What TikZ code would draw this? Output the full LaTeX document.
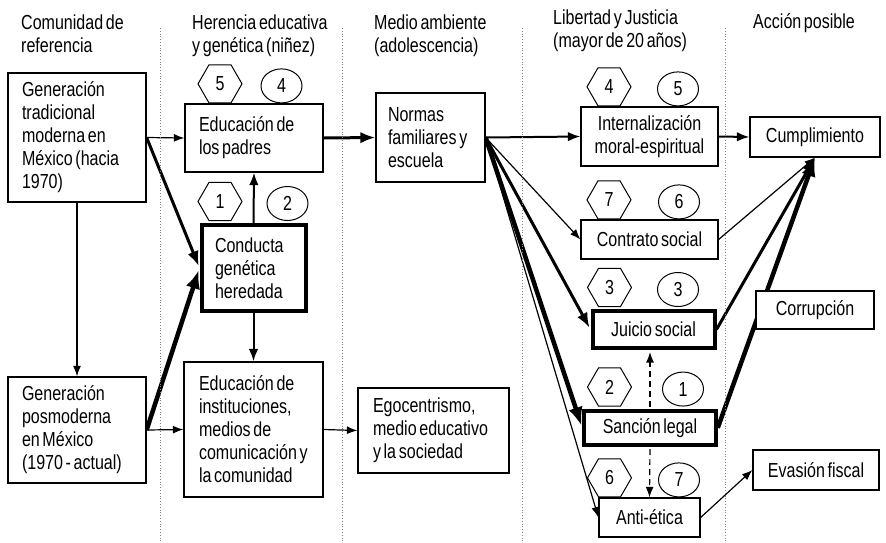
\documentclass[tikz,border=0pt]{standalone}
\usepackage{fontspec}
\setmainfont{Liberation Sans}[FakeStretch=0.79, WordSpace=0.6]
\usetikzlibrary{arrows.meta,shapes.geometric,positioning,backgrounds}
\tikzstyle{flowArrow} = [-{Latex[length=7.5pt 2.5, width=5.5pt 2]}]
\tikzstyle{thinArrow} = [flowArrow, line width=1.2pt]
\tikzstyle{midArrow} = [flowArrow, line width=2pt]
\tikzstyle{thickArrow} = [flowArrow, line width=3pt]
\tikzstyle{heavyArrow} = [flowArrow, line width=4.5pt]
\tikzstyle{legalLink} = [thinArrow, dash pattern=on 6pt off 4pt]
\tikzstyle{stdBox} = [shape=rectangle, draw, fill=white, line width=1.2pt, inner ysep=0pt, align=flush left]
\tikzstyle{keyBox} = [stdBox, line width=4pt]
\tikzstyle{rightBox} = [stdBox, inner xsep=0pt, align=center]
\tikzstyle{hexMark} = [regular polygon, regular polygon sides=6, minimum size=44pt, inner sep=0pt, draw, fill=white, line width=1pt]
\tikzstyle{circMark} = [ellipse, minimum width=41pt, minimum height=34pt, inner sep=0pt, draw, fill=white, line width=1pt]
\tikzstyle{heading} = [anchor=north west, inner sep=0pt, align=left]
\tikzstyle{separator} = [gray, dotted, line width=0.8pt]

\begin{document}
\begin{tikzpicture}[x=1pt, y=-1pt, font=\fontsize{20.3}{23}\selectfont]
\useasboundingbox (0,0) rectangle (886,542);
% column separators
\foreach \x in {160,342,522,725}
	\draw[separator] (\x,28) -- (\x,542);
% headings
\node (hComunidad) [heading] at (21,15) {Comunidad de\\referencia};
\node (hHerencia) [heading] at (192,15) {Herencia educativa\\y genética (niñez)};
\node (hMedio) [heading] at (374,15) {Medio ambiente\\(adolescencia)};
\node (hLibertad) [heading] at (553,10) {Libertad y Justicia\\(mayor de 20 años)};
\node (hAccion) [heading] at (753,13) {Acción posible};
% community
\node (trad) [stdBox, inner xsep=14pt, text width=110pt, minimum height=129pt] at (77,137.5) {
	Generación\\tradicional\\moderna en\\México (hacia\\1970)
};
\node (posm) [stdBox, inner xsep=14pt, text width=110pt, minimum height=106pt] at (77,430) {
	Generación\\posmoderna\\en México\\(1970 - actual)
};
% inheritance
\node (padres) [stdBox, inner xsep=14pt, text width=110pt, minimum height=68pt] at (254,138) {
	Educación de\\los padres
};
\node (conducta) [keyBox, inner xsep=13.5pt, text width=77pt, minimum height=86pt] at (253.5,268) {
	Conducta\\genética\\heredada
};
\node (instit) [stdBox, inner xsep=15pt, text width=109pt, minimum height=135pt] at (253.5,429.5) {
	Educación~de\\instituciones,\\medios de\\comunicación~y\\la comunidad
};
% environment
\node (normas) [stdBox, inner xsep=12pt, text width=85pt, minimum height=89pt] at (430.5,137.5) {
	Normas\\familiares~y\\escuela
};
\node (ego) [stdBox, inner xsep=15pt, text width=121pt, minimum height=85pt] at (433.5,430.5) {
	Egocentrismo,\\medio~educativo\\y la sociedad
};
% freedom and justice
\node (intern) [rightBox, minimum width=137pt, minimum height=59pt] at (649.5,136.5) {
	Internalización\\moral-espiritual
};
\node (contrato) [rightBox, minimum width=137pt, minimum height=39pt] at (649.5,239.5) {Contrato social};
\node (juicio) [rightBox, line width=4pt, minimum width=122pt, minimum height=37pt] at (653.5,329.5) {Juicio social};
\node (sancion) [rightBox, line width=4pt, minimum width=131.5pt, minimum height=34.5pt] at (650,427.8) {Sanción legal};
\node (anti) [rightBox, minimum width=101pt, minimum height=39pt] at (649.5,517.5) {Anti-ética};
% possible action
\node (cumpl) [rightBox, minimum width=130pt, minimum height=40pt] at (815,137) {Cumplimiento};
\node (corrup) [rightBox, minimum width=118pt, minimum height=38pt] at (815,310) {Corrupción};
\node (evasion) [rightBox, minimum width=126pt, minimum height=40pt] at (816,470) {Evasión fiscal};
% rank markers
\node (hexPadres) [hexMark, above=0pt of padres.north, xshift=-34pt] {5};
\node (circPadres) [circMark, above=0pt of padres.north, xshift=27.5pt] {4};
\node (hexConducta) [hexMark, above=2pt of conducta.north, xshift=-33.5pt] {1};
\node (circConducta) [circMark, above=2pt of conducta.north, xshift=34pt] {2};
\node (hexIntern) [hexMark, above=0pt of intern.north, xshift=-40.5pt] {4};
\node (circIntern) [circMark, above=0pt of intern.north, xshift=28.5pt] {5};
\node (hexContrato) [hexMark, above=0pt of contrato.north, xshift=-40.5pt] {7};
\node (circContrato) [circMark, above=0pt of contrato.north, xshift=29.5pt] {6};
\node (hexJuicio) [hexMark, above=2pt of juicio.north, xshift=-44pt] {3};
\node (circJuicio) [circMark, above=2pt of juicio.north, xshift=24.5pt] {3};
\node (hexSancion) [hexMark, above=2pt of sancion.north, xshift=-40.5pt] {2};
\node (circSancion) [circMark, above=2pt of sancion.north, xshift=33pt] {1};
\node (hexAnti) [hexMark, above=0pt of anti.north, xshift=-40pt] {6};
\node (circAnti) [circMark, above=0pt of anti.north, xshift=29.5pt] {7};
% connectors
\begin{scope}[on background layer]
	\draw[thinArrow] (trad.east) -- (padres.west);
	\draw[thickArrow, shorten >=2pt] (trad.east) -- (conducta.west);
	\draw[thinArrow] (trad.south) -- (posm.north);
	\draw[thinArrow] (posm.east) -- (instit.west);
	\draw[heavyArrow, shorten >=2pt] (posm.east) -- (conducta.west);
	\draw[midArrow] (conducta.north) -- (padres.south);
	\draw[midArrow] (conducta.south) -- (instit.north);
	\draw[thickArrow] (padres.east) -- (normas.west);
	\draw[thinArrow] (instit.east) -- (ego.west);
	\draw[midArrow] (normas.east) -- (intern.west);
	\draw[thinArrow] (normas.east) -- (contrato.west);
	\draw[thickArrow, shorten >=2pt] (normas.east) -- (juicio.west);
	\draw[heavyArrow, shorten >=2pt] (normas.east) -- (sancion.west);
	\draw[thinArrow] (normas.east) -- (anti.west);
	\draw[midArrow] (intern.east) -- (cumpl.west);
	\draw[thinArrow] (contrato.east) -- (cumpl.south);
	\draw[thickArrow] (juicio.east) -- (cumpl.south);
	\draw[heavyArrow] (sancion.east) -- (cumpl.south);
	\draw[thinArrow] (anti.east) -- (evasion.west);
	\draw[legalLink, shorten <=2pt, shorten >=2pt] (sancion.north) -- (sancion.north |- juicio.south);
	\draw[legalLink, shorten <=2pt] (sancion.south) -- (anti.north);
\end{scope}
\end{tikzpicture}
\end{document}
